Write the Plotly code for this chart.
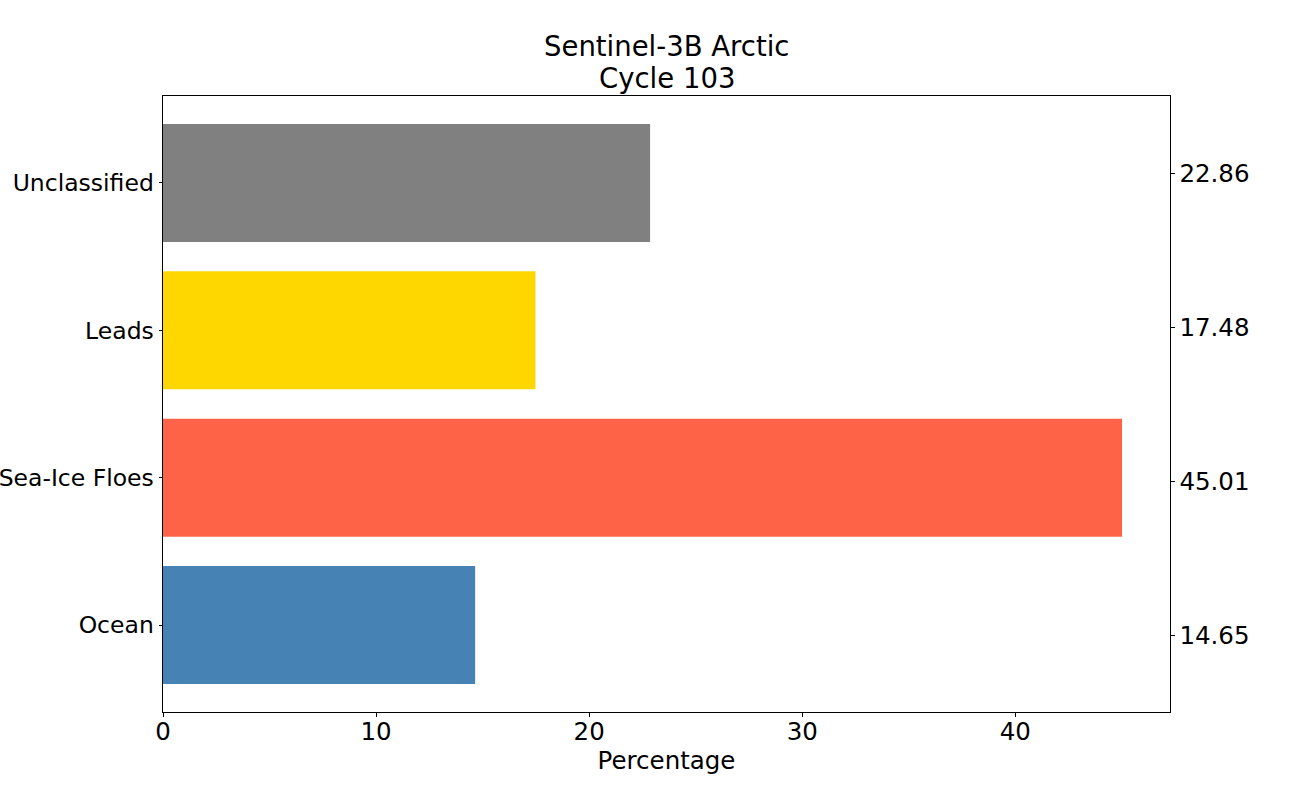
import plotly.graph_objects as go

categories = ["Ocean", "Sea-Ice Floes", "Leads", "Unclassified"]
percentages = [14.65, 45.01, 17.48, 22.86]
colors = ["#4682B4", "#FF6347", "#FFD700", "#808080"]
title_lines = ["Sentinel-3B Arctic", "Cycle 103"]
x_label = "Percentage"

n = len(categories)
bar_w = 0.8
y_lo = -bar_w / 2 - 0.05 * (n - 1 + bar_w)
y_hi = n - 1 + bar_w / 2 + 0.05 * (n - 1 + bar_w)
x_hi = max(percentages) * 1.05

FONT = "DejaVu Sans"

fig = go.Figure()
fig.add_trace(go.Bar(
    y=list(range(n)), x=percentages, orientation="h",
    marker=dict(color=colors, line=dict(width=0)), width=bar_w,
    showlegend=False, hoverinfo="x+y",
))
# invisible trace for the right-hand axis
fig.add_trace(go.Scatter(
    x=[0], y=[0.5], yaxis="y2", mode="markers",
    marker=dict(opacity=0), showlegend=False, hoverinfo="skip",
))

axis_common = dict(
    showgrid=False, zeroline=False, showline=True, linecolor="black",
    linewidth=1, ticks="outside", ticklen=3.5, tickwidth=1, tickcolor="black",
)

W, H = 1300, 800
L, T, R, B = 163, 96, 130, 88

title_annots = []
for i, line in enumerate(reversed(title_lines)):
    title_annots.append(dict(
        text=line, xref="paper", yref="paper", x=0.5, y=1,
        xanchor="center", yanchor="bottom", yshift=0 + 32 * i,
        showarrow=False, font=dict(size=27.5, family=FONT, color="black"),
    ))

fig.update_layout(
    width=W, height=H,
    paper_bgcolor="white", plot_bgcolor="white",
    margin=dict(l=L, r=R, t=T, b=B, autoexpand=False),
    font=dict(family=FONT, color="black"),
    annotations=title_annots,
    xaxis=dict(
        range=[0, x_hi], tickvals=[0, 10, 20, 30, 40],
        tickfont=dict(size=24.5), mirror=True, ticklabelstandoff=-6,
        title=dict(text=x_label, font=dict(size=24.5), standoff=5),
        **axis_common,
    ),
    yaxis=dict(
        range=[y_lo, y_hi], tickvals=list(range(n)), ticktext=categories,
        tickfont=dict(size=23.5), mirror=True,
        **axis_common,
    ),
    yaxis2=dict(
        overlaying="y", side="right", range=[0, 1],
        tickvals=[(i + 0.5) / n for i in range(n)],
        ticktext=[f"{v:.2f}" for v in percentages],
        tickfont=dict(size=24.5),
        **axis_common,
    ),
)

fig.write_html(
    "out.html",
    config={"displayModeBar": False},
    post_script="document.body.style.margin='0';",
)
